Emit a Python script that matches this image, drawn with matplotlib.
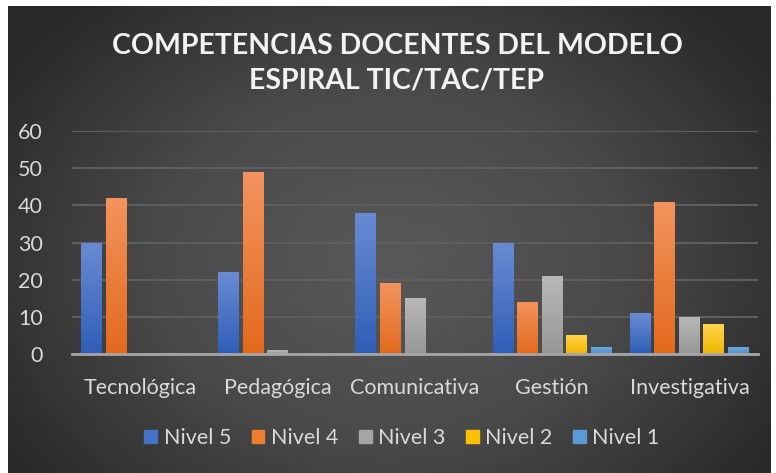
import numpy as np
import matplotlib.pyplot as plt
import matplotlib.colors as mcolors

# Data
categories = ['Tecnológica', 'Pedagógica', 'Comunicativa', 'Gestión', 'Investigativa']
series_names = ['Nivel 5', 'Nivel 4', 'Nivel 3', 'Nivel 2', 'Nivel 1']
nivel5 = [30, 22, 38, 30, 11]
nivel4 = [42, 49, 19, 14, 41]
nivel3 = [0, 1, 15, 21, 10]
nivel2 = [0, 0, 0, 5, 8]
nivel1 = [0, 0, 0, 2, 2]
series_values = [nivel5, nivel4, nivel3, nivel2, nivel1]

# (top colour, bottom colour) for the vertical gradient of each series
colors = [('#6a8bd3', '#2f5eb8'),
          ('#f3935e', '#e36a1c'),
          ('#b8b8b8', '#979797'),
          ('#ffd54d', '#f0b600'),
          ('#72aae0', '#4f90ce')]
flat_colors = ['#4472c4', '#ed7d31', '#a5a5a5', '#ffc000', '#5b9bd5']

title_font = 'Lato'
text_font = 'Lato'
text_color = '#d9d9d9'
label_size = 15.5

fig = plt.figure(figsize=(7.76, 4.73), dpi=100)
fig.patch.set_facecolor('white')

# radial gradient background (Excel dark style), inset with white border
bg = fig.add_axes([8 / 776, 0, 763 / 776, 1 - 6 / 473], zorder=0)
yy, xx = np.mgrid[0:1:300j, 0:1:500j]
r = np.sqrt(((xx - 0.5) / 0.6) ** 2 + ((yy - 0.55) / 0.75) ** 2)
r = np.clip(r, 0, 1)
bg_cmap = mcolors.LinearSegmentedColormap.from_list('bg', ['#595959', '#4a4a4a', '#292929'])
bg.imshow(r, cmap=bg_cmap, aspect='auto', extent=[0, 1, 0, 1], vmin=0, vmax=1)
bg.set_axis_off()

ax = fig.add_axes([72 / 776, 1 - 354 / 473, 686 / 776, 223 / 473], zorder=1)
ax.patch.set_alpha(0)

x = np.arange(len(categories))
pitch = 0.1786
width = 0.153
n = len(series_values)

for i, (vals, (ctop, cbot)) in enumerate(zip(series_values, colors)):
    offs = (i - (n - 1) / 2) * pitch
    bars = ax.bar(x + offs, vals, width, color=flat_colors[i], label=series_names[i], zorder=3)
    grad_cmap = mcolors.LinearSegmentedColormap.from_list('g%d' % i, [cbot, ctop])
    for b in bars:
        h = b.get_height()
        if h <= 0:
            continue
        b.set_facecolor('none')
        x0 = b.get_x()
        im = ax.imshow(np.linspace(0, 1, 100).reshape(-1, 1), cmap=grad_cmap, origin='lower',
                       extent=[x0, x0 + b.get_width(), 0, h], aspect='auto', zorder=3)
        im.set_clip_path(b)

ax.set_xlim(-0.5, len(categories) - 0.5)
ax.set_ylim(0, 60)
ax.set_yticks(range(0, 61, 10))
ax.set_xticks(x)
ax.set_xticklabels(categories)

ax.grid(axis='y', color='#5e5e5e', linewidth=1.5, zorder=1)
ax.set_axisbelow(True)
for s in ['top', 'right', 'left']:
    ax.spines[s].set_visible(False)
ax.spines['bottom'].set_color('#a6a6a6')
ax.spines['bottom'].set_linewidth(2)
ax.spines['bottom'].set_zorder(4)

ax.tick_params(axis='y', length=0, pad=21, labelsize=label_size, labelcolor=text_color)
ax.tick_params(axis='x', length=0, pad=17, labelsize=label_size, labelcolor=text_color)
for lab in ax.get_xticklabels() + ax.get_yticklabels():
    lab.set_fontfamily(text_font)

title_x = 397 / 776
fig.text(title_x, 1 - 46 / 473, 'COMPETENCIAS DOCENTES DEL MODELO', ha='center', va='center',
         fontsize=20.5, fontweight='bold', color='#f2f2f2', family=title_font)
fig.text(title_x, 1 - 80 / 473, 'ESPIRAL TIC/TAC/TEP', ha='center', va='center',
         fontsize=20.5, fontweight='bold', color='#f2f2f2', family=title_font)

handles = [plt.Rectangle((0, 0), 1, 1, color=c) for c in flat_colors]
leg = fig.legend(handles, series_names, loc='center', bbox_to_anchor=(402 / 776, 1 - 438 / 473),
                 ncol=5, frameon=False, handlelength=0.6, handleheight=0.6,
                 handletextpad=0.3, columnspacing=0.95,
                 prop={'family': text_font, 'size': label_size})
for t in leg.get_texts():
    t.set_color(text_color)

fig.savefig('out.png', dpi=100)
